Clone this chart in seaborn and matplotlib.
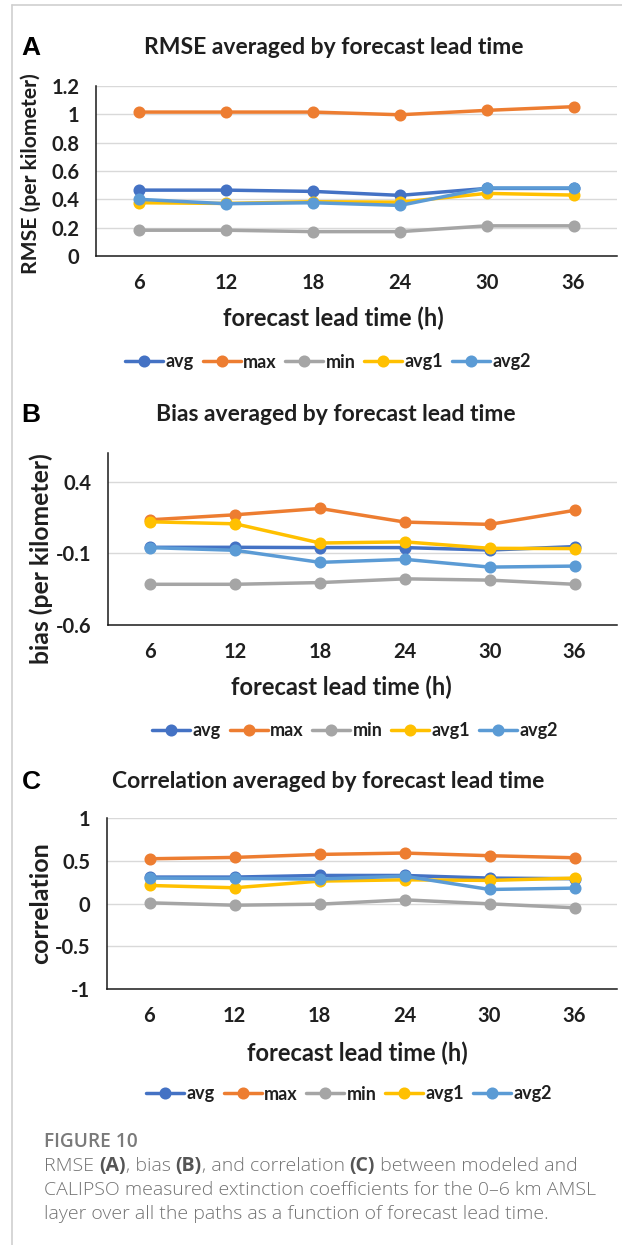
import numpy as np
import pandas as pd
import matplotlib
matplotlib.use("Agg")
import matplotlib.pyplot as plt
import seaborn as sns
from matplotlib.lines import Line2D

# ---------------- data ----------------
lead_times = ["6", "12", "18", "24", "30", "36"]
series_names = ["avg", "max", "min", "avg1", "avg2"]

rmse_avg = [0.465, 0.465, 0.456, 0.428, 0.477, 0.477]
rmse_max = [1.016, 1.016, 1.016, 0.997, 1.028, 1.054]
rmse_min = [0.182, 0.182, 0.172, 0.172, 0.213, 0.213]
rmse_avg1 = [0.376, 0.371, 0.383, 0.380, 0.442, 0.430]
rmse_avg2 = [0.400, 0.369, 0.376, 0.357, 0.480, 0.480]

bias_avg = [-0.058, -0.058, -0.060, -0.060, -0.077, -0.053]
bias_max = [0.134, 0.169, 0.213, 0.118, 0.102, 0.200]
bias_min = [-0.316, -0.316, -0.304, -0.278, -0.287, -0.316]
bias_avg1 = [0.120, 0.106, -0.028, -0.020, -0.065, -0.067]
bias_avg2 = [-0.060, -0.079, -0.163, -0.142, -0.196, -0.189]

corr_avg = [0.309, 0.309, 0.328, 0.328, 0.297, 0.290]
corr_max = [0.523, 0.539, 0.574, 0.590, 0.559, 0.535]
corr_min = [0.008, -0.020, -0.008, 0.043, -0.004, -0.050]
corr_avg1 = [0.211, 0.184, 0.262, 0.277, 0.270, 0.297]
corr_avg2 = [0.297, 0.293, 0.285, 0.320, 0.164, 0.180]

rmse_ticks = [0, 0.2, 0.4, 0.6, 0.8, 1, 1.2]
rmse_ticklabels = ["0", "0.2", "0.4", "0.6", "0.8", "1", "1.2"]
bias_ticks = [-0.6, -0.1, 0.4]
bias_ticklabels = ["-0.6", "-0.1", "0.4"]
corr_ticks = [-1, -0.5, 0, 0.5, 1]
corr_ticklabels = ["-1", "-0.5", "0", "0.5", "1"]

colors = ["#4472C4", "#ED7D31", "#A5A5A5", "#FFC000", "#5B9BD5"]

# ---------------- style ----------------
sns.set_theme(style="white")
plt.rcParams["font.family"] = ["Lato", "DejaVu Sans"]

W, H = 622, 1245
fig = plt.figure(figsize=(W / 100, H / 100), dpi=100)
fig.patch.set_facecolor("white")

TXT = "#1f1f1f"
LW = 2.5
MS = 6.8


def px_axes(left, top, right, bottom):
    return fig.add_axes([left / W, 1 - bottom / H, (right - left) / W, (bottom - top) / H])


def frame(d):
    df = pd.DataFrame({"lead": np.tile(lead_times, len(series_names)),
                       "series": np.repeat(series_names, len(lead_times)),
                       "value": np.concatenate([d[s] for s in series_names])})
    return df


panels = [
    dict(letter="A", title="RMSE averaged by forecast lead time",
         data={"avg": rmse_avg, "max": rmse_max, "min": rmse_min, "avg1": rmse_avg1, "avg2": rmse_avg2},
         box=(96, 86, 617, 256), ylim=(0, 1.2), ticks=rmse_ticks, ticklabels=rmse_ticklabels,
         ylabel="RMSE (per kilometer)", ylab_xy=(31, 174), ylab_size=15.2,
         title_y=48, title_x=334, xlab_x=333, xlab_y=318, leg_x=328, leg_y=362, letter_y=48),
    dict(letter="B", title="Bias averaged by forecast lead time",
         data={"avg": bias_avg, "max": bias_max, "min": bias_min, "avg1": bias_avg1, "avg2": bias_avg2},
         box=(108, 453, 617, 625), ylim=(-0.6, 0.6), ticks=bias_ticks, ticklabels=bias_ticklabels,
         ylabel="bias (per kilometer)", ylab_xy=(41, 559), ylab_size=17.8,
         title_y=415, title_x=336, xlab_x=341, xlab_y=687, leg_x=355, leg_y=731, letter_y=415),
    dict(letter="C", title="Correlation averaged by forecast lead time",
         data={"avg": corr_avg, "max": corr_max, "min": corr_min, "avg1": corr_avg1, "avg2": corr_avg2},
         box=(107, 818, 617, 989), ylim=(-1, 1), ticks=corr_ticks, ticklabels=corr_ticklabels,
         ylabel="correlation", ylab_xy=(41, 903), ylab_size=18,
         title_y=782, title_x=328, xlab_x=357, xlab_y=1053, leg_x=349, leg_y=1094, letter_y=782),
]

for p in panels:
    ax = px_axes(*p["box"])
    df = frame(p["data"])
    sns.pointplot(data=df, x="lead", y="value", hue="series", order=lead_times,
                  hue_order=series_names, palette=colors, markers="o",
                  linestyles="-", errorbar=None, dodge=False, ax=ax,
                  linewidth=LW, markersize=MS)
    ax.set_xlim(-0.5, len(lead_times) - 0.5)
    ax.set_ylim(*p["ylim"])
    ax.set_yticks(p["ticks"])
    ax.set_yticklabels(p["ticklabels"])
    ax.set_xlabel("")
    ax.set_ylabel("")
    if ax.get_legend() is not None:
        ax.get_legend().remove()
    for t in p["ticks"]:
        if t != p["ylim"][0]:
            ax.axhline(t, color="#D9D9D9", lw=1.0, zorder=0)
    for s in ["top", "right"]:
        ax.spines[s].set_visible(False)
    for s in ["left", "bottom"]:
        ax.spines[s].set_color("#1a1a1a")
        ax.spines[s].set_linewidth(1.1)
    ax.tick_params(axis="both", which="major", length=5, width=1.0, color="#1a1a1a",
                   labelsize=14.5, labelcolor=TXT, direction="out")
    ax.tick_params(axis="y", pad=7)
    ax.tick_params(axis="x", pad=7)
    ax.set_xticks(range(len(lead_times)), minor=False)
    ax.set_xticks([len(lead_times) - 0.5], minor=True)
    ax.tick_params(axis="x", which="minor", length=5, width=1.0, color="#1a1a1a")
    for lab in ax.get_xticklabels() + ax.get_yticklabels():
        lab.set_fontweight("bold")
    ax.set_facecolor("none")

    x0, y0 = p["ylab_xy"]
    fig.text(x0 / W, 1 - y0 / H, p["ylabel"], rotation=90, ha="center", va="center",
             fontsize=p["ylab_size"], fontweight="bold", color=TXT)
    fig.text(p["title_x"] / W, 1 - p["title_y"] / H, p["title"], ha="center", va="center",
             fontsize=16.5, fontweight="bold", color=TXT)
    fig.text(31 / W, 1 - p["letter_y"] / H, p["letter"], ha="center", va="center",
             fontsize=19, fontweight="bold", color="black", family="Liberation Sans")
    fig.text(p["xlab_x"] / W, 1 - p["xlab_y"] / H, "forecast lead time (h)", ha="center",
             va="center", fontsize=17, fontweight="bold", color=TXT)

    handles, labels = ax.get_legend_handles_labels()
    if not handles:
        handles = [Line2D([], [], color=c, lw=LW, marker="o", markersize=MS) for c in colors]
        labels = series_names
    leg = fig.legend(handles, labels, loc="center", bbox_to_anchor=(p["leg_x"] / W, 1 - p["leg_y"] / H),
                     ncol=5, frameon=False, handlelength=2.1, handletextpad=0.12,
                     columnspacing=0.5, borderpad=0, prop=dict(weight="bold", size=13))
    for t in leg.get_texts():
        t.set_color(TXT)

# ---- frame lines ----
fig.add_artist(Line2D([12 / W, 12 / W], [0, 1 - 5 / H], color="#CFCFCF", lw=1.2))
fig.add_artist(Line2D([12 / W, 1], [1 - 5 / H, 1 - 5 / H], color="#CFCFCF", lw=1.2))

# ---- caption ----
cap_font = ["Open Sans", "DejaVu Sans"]
fig.text(44 / W, 1 - 1142 / H, "FIGURE 10", ha="left", va="center", fontsize=13.8,
         fontweight="semibold", color="#7a7a7a", family=cap_font)

renderer = fig.canvas.get_renderer()


def rich_line(x, y, segs, size=14.0):
    for txt, bold in segs:
        t = fig.text(x / W, 1 - y / H, txt, ha="left", va="center", fontsize=size,
                     fontweight="bold" if bold else "light",
                     color="#555555" if bold else "#727272", family=cap_font)
        bb = t.get_window_extent(renderer=renderer)
        x += bb.width


rich_line(44, 1166, [("RMSE ", False), ("(A)", True), (", bias ", False), ("(B)", True),
                     (", and correlation ", False), ("(C)", True), (" between modeled and", False)])
rich_line(44, 1190, [("CALIPSO measured extinction coefficients for the 0\u20136 km AMSL", False)])
rich_line(44, 1214, [("layer over all the paths as a function of forecast lead time.", False)])

fig.savefig("out.png", dpi=100, facecolor="white")
